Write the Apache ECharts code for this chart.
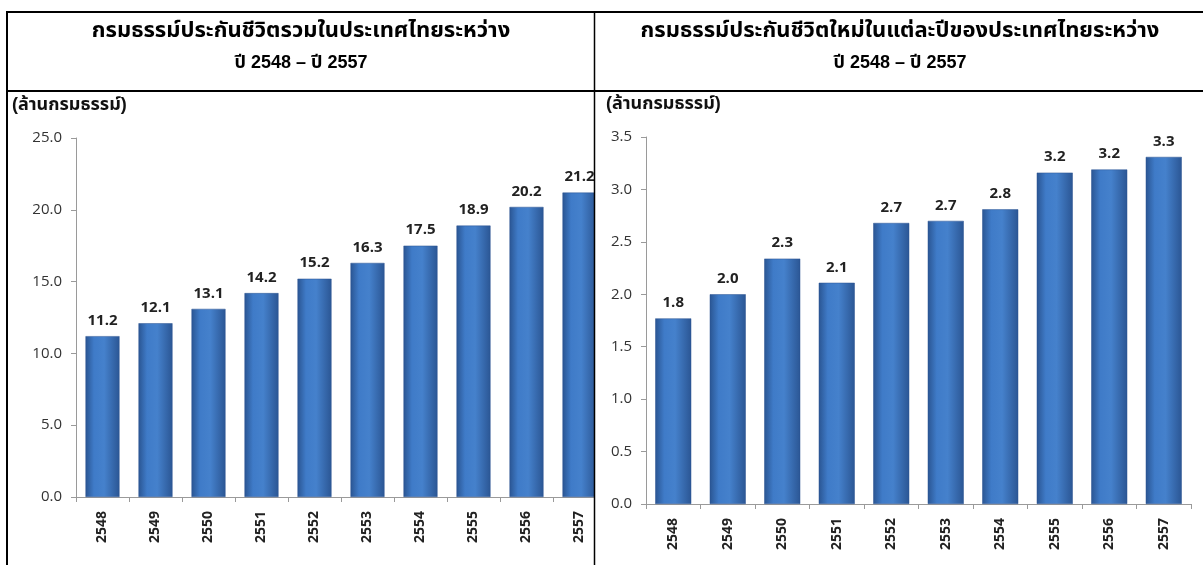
<!DOCTYPE html>
<html>
<head>
<meta charset="utf-8">
<script src="https://cdn.jsdelivr.net/npm/echarts@6/dist/echarts.min.js"></script>
<style>
  html, body { margin: 0; padding: 0; background: #fff; }
  #main { width: 1203px; height: 565px; }
</style>
</head>
<body>
<div id="main"></div>
<script>
// data
var years = ['2548', '2549', '2550', '2551', '2552', '2553', '2554', '2555', '2556', '2557'];
var totalPolicies = [11.2, 12.1, 13.1, 14.2, 15.2, 16.3, 17.5, 18.9, 20.2, 21.2];
var newPolicies = [1.77, 2.0, 2.34, 2.11, 2.68, 2.70, 2.81, 3.16, 3.19, 3.31];
var leftTicks = [0, 5, 10, 15, 20, 25];
var rightTicks = [0, 0.5, 1, 1.5, 2, 2.5, 3, 3.5];

var titleLeft = 'กรมธรรม์ประกันชีวิตรวมในประเทศไทยระหว่าง';
var titleRight = 'กรมธรรม์ประกันชีวิตใหม่ในแต่ละปีของประเทศไทยระหว่าง';
var titleYears = 'ปี 2548 – ปี 2557';
var unitText = '(ล้านกรมธรรม์)';

var thaiFont = '"Liberation Sans", "Noto Sans Thai", "Noto Sans", Arial, sans-serif';
var numFont = '"Open Sans", "Noto Sans", sans-serif';

var barColor = new echarts.graphic.LinearGradient(0, 0, 1, 0, [
  { offset: 0, color: '#2a5592' },
  { offset: 0.25, color: '#3f7bc8' },
  { offset: 0.55, color: '#4581cc' },
  { offset: 1, color: '#2b5694' }
]);

function makeXAxis(idx) {
  return {
    type: 'category',
    gridIndex: idx,
    data: years,
    axisLine: { lineStyle: { color: '#9a9a9a', width: 1 } },
    axisTick: { show: true, length: 5, lineStyle: { color: '#9a9a9a' } },
    axisLabel: {
      rotate: 90, color: '#222', fontWeight: 'bold', fontSize: 14,
      fontFamily: numFont, margin: 14
    }
  };
}

function makeYAxis(idx, max, interval) {
  return {
    type: 'value',
    gridIndex: idx,
    min: 0, max: max, interval: interval,
    splitLine: { show: false },
    axisLine: { show: true, lineStyle: { color: '#9a9a9a' } },
    axisTick: { show: true, length: 5, lineStyle: { color: '#9a9a9a' } },
    axisLabel: {
      color: '#333', fontSize: 15, fontFamily: numFont, margin: 14,
      formatter: function (v) { return v.toFixed(1); }
    }
  };
}

function makeSeries(idx, data, w) {
  return {
    type: 'bar',
    xAxisIndex: idx,
    yAxisIndex: idx,
    data: data,
    barWidth: w,
    itemStyle: { color: barColor, borderColor: '#2a5290', borderWidth: 0.5 },
    label: {
      show: true, position: 'top', distance: 8,
      color: '#222', fontWeight: 'bold', fontSize: 15, fontFamily: numFont,
      formatter: function (p) { return p.value.toFixed(1); }
    },
    z: 2
  };
}

var chart = echarts.init(document.getElementById('main'));
chart.setOption({
  animation: false,
  backgroundColor: '#fff',
  grid: [
    { left: 76, top: 138, width: 530, height: 359 },
    { left: 646, top: 137, width: 545, height: 367 }
  ],
  xAxis: [makeXAxis(0), makeXAxis(1)],
  yAxis: [
    makeYAxis(0, leftTicks[leftTicks.length - 1], leftTicks[1] - leftTicks[0]),
    makeYAxis(1, rightTicks[rightTicks.length - 1], rightTicks[1] - rightTicks[0])
  ],
  series: [
    makeSeries(0, totalPolicies, 34),
    makeSeries(1, newPolicies, 36)
  ],
  graphic: [
    // cover left chart overflow past the divider
    { type: 'rect', shape: { x: 595, y: 93, width: 12, height: 472 }, style: { fill: '#fff' }, z: 50 },
    // table lines
    { type: 'line', shape: { x1: 6, y1: 12, x2: 1203, y2: 12 }, style: { stroke: '#000', lineWidth: 2 }, z: 60 },
    { type: 'line', shape: { x1: 6, y1: 91, x2: 1203, y2: 91 }, style: { stroke: '#000', lineWidth: 2 }, z: 60 },
    { type: 'line', shape: { x1: 7, y1: 12, x2: 7, y2: 565 }, style: { stroke: '#000', lineWidth: 2 }, z: 60 },
    { type: 'line', shape: { x1: 594.5, y1: 12, x2: 594.5, y2: 565 }, style: { stroke: '#000', lineWidth: 1.5 }, z: 60 },
    // titles
    { type: 'text', x: 301, y: 31, z: 60, style: { text: titleLeft, fill: '#000', font: 'bold 22px ' + thaiFont, align: 'center', verticalAlign: 'middle' } },
    { type: 'text', x: 301, y: 63, z: 60, style: { text: titleYears, fill: '#000', font: 'bold 18px ' + thaiFont, align: 'center', verticalAlign: 'middle' } },
    { type: 'text', x: 900, y: 31, z: 60, style: { text: titleRight, fill: '#000', font: 'bold 22px ' + thaiFont, align: 'center', verticalAlign: 'middle' } },
    { type: 'text', x: 900, y: 63, z: 60, style: { text: titleYears, fill: '#000', font: 'bold 18px ' + thaiFont, align: 'center', verticalAlign: 'middle' } },
    // unit labels
    { type: 'text', x: 12, y: 105, z: 60, style: { text: unitText, fill: '#111', font: 'bold 18px ' + thaiFont, align: 'left', verticalAlign: 'middle' } },
    { type: 'text', x: 606, y: 104, z: 60, style: { text: unitText, fill: '#111', font: 'bold 18px ' + thaiFont, align: 'left', verticalAlign: 'middle' } }
  ]
});
</script>
</body>
</html>
